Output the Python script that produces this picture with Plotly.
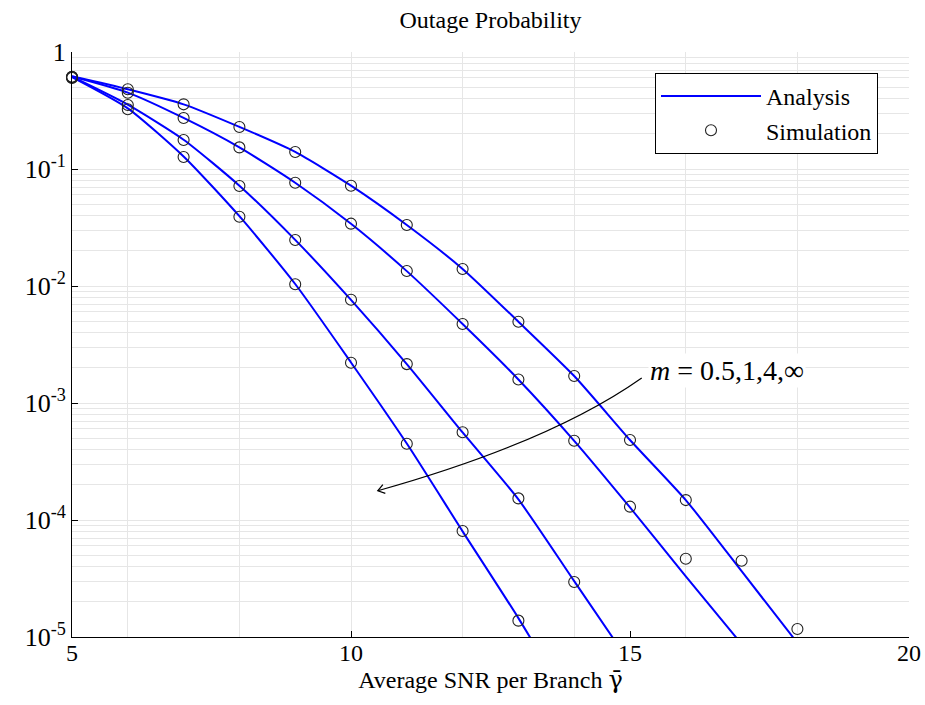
import numpy as np
import plotly.graph_objects as go

# ---------------- data ----------------
snr_sim_inf = [5, 6, 7, 8, 9, 10, 11, 12, 13]
sim_inf = [0.60, 0.324, 0.1266, 0.0391, 0.01034, 0.00221, 0.000449, 8.05e-5, 1.38e-5]
snr_sim_m4 = [5, 6, 7, 8, 9, 10, 11, 12, 13, 14]
sim_m4 = [0.605, 0.352, 0.177, 0.0716, 0.0247, 0.00764, 0.00215, 0.000562, 0.000153, 2.95e-5]
snr_sim_m1 = [5, 6, 7, 8, 9, 10, 11, 12, 13, 14, 15, 16]
sim_m1 = [0.61, 0.449, 0.273, 0.153, 0.0764, 0.0341, 0.01343, 0.00473, 0.00159, 0.000476, 0.00013, 4.67e-5]
snr_sim_m05 = [5, 6, 7, 8, 9, 10, 11, 12, 13, 14, 15, 16, 17, 18]
sim_m05 = [0.615, 0.48, 0.357, 0.2286, 0.1397, 0.072, 0.0332, 0.01397, 0.00495, 0.0017, 0.000483, 0.000148, 4.49e-5, 1.17e-5]

snr_ana_inf = [5, 6, 7, 8, 9, 10, 11, 12, 13, 14]
ana_inf = [0.61, 0.33, 0.128, 0.0395, 0.0104, 0.00222, 0.00045, 8.0e-5, 1.45e-5, 2.3e-6]
snr_ana_m4 = [5, 6, 7, 8, 9, 10, 11, 12, 13, 14, 15]
ana_m4 = [0.615, 0.355, 0.178, 0.072, 0.0248, 0.0076, 0.00215, 0.00056, 0.00015, 3.0e-5, 6.0e-6]
snr_ana_m1 = [5, 6, 7, 8, 9, 10, 11, 12, 13, 14, 15, 16, 17]
ana_m1 = [0.618, 0.45, 0.273, 0.153, 0.0763, 0.034, 0.0134, 0.00473, 0.00159, 0.000475, 0.000128, 3.3e-5, 8.7e-6]
snr_ana_m05 = [5, 6, 7, 8, 9, 10, 11, 12, 13, 14, 15, 16, 17, 18]
ana_m05 = [0.62, 0.48, 0.357, 0.229, 0.14, 0.072, 0.0332, 0.014, 0.00495, 0.0017, 0.000483, 0.000148, 3.65e-5, 8.9e-6]

x_ticks = [5, 10, 15, 20]
y_tick_vals = [1e-5, 1e-4, 1e-3, 1e-2, 1e-1, 1]
y_tick_text = ["10<sup>-5</sup>", "10<sup>-4</sup>", "10<sup>-3</sup>",
               "10<sup>-2</sup>", "10<sup>-1</sup>", "1"]

# ---------------- layout constants ----------------
W, H = 925, 705
ML, MR, MT, MB = 72, 16, 52, 68
PW, PH = W - ML - MR, H - MT - MB
XMIN, XMAX = 5, 20
LYMIN, LYMAX = -5, 0
FONT = "Liberation Serif"
BLUE = "#0000FF"
GRID = "#e6e6e6"

fig = go.Figure()

ana = [(snr_ana_inf, ana_inf), (snr_ana_m4, ana_m4), (snr_ana_m1, ana_m1), (snr_ana_m05, ana_m05)]
sim = [(snr_sim_inf, sim_inf), (snr_sim_m4, sim_m4), (snr_sim_m1, sim_m1), (snr_sim_m05, sim_m05)]

for i, (xs, ys) in enumerate(ana):
    fig.add_trace(go.Scatter(
        x=xs, y=ys, mode="lines", name="Analysis",
        line=dict(color=BLUE, width=2, shape="spline", smoothing=0.6),
        legendgroup="ana", showlegend=(i == 0)))
for i, (xs, ys) in enumerate(sim):
    fig.add_trace(go.Scatter(
        x=xs, y=ys, mode="markers", name="Simulation",
        marker=dict(symbol="circle-open", size=11, color="#222222", line=dict(width=1.1)),
        legendgroup="sim", showlegend=(i == 0), cliponaxis=False))

# ---------------- curved arrow annotation ----------------
def data_to_px(x, y):
    px = ML + (x - XMIN) / (XMAX - XMIN) * PW
    py = MT + (LYMAX - np.log10(y)) / (LYMAX - LYMIN) * PH
    return np.array([px, py])

def px_to_paper(p):
    return ((p[0] - ML) / PW, 1 - (p[1] - MT) / PH)

arrow_start = data_to_px(15.21, 10 ** -2.786)
arrow_ctrl = data_to_px(13.57, 10 ** -3.337)
arrow_end = data_to_px(10.48, 10 ** -3.75)

s, c, e = px_to_paper(arrow_start), px_to_paper(arrow_ctrl), px_to_paper(arrow_end)
fig.add_shape(type="path", xref="paper", yref="paper",
              path=f"M {s[0]},{s[1]} Q {c[0]},{c[1]} {e[0]},{e[1]}",
              line=dict(color="black", width=1.2))

t = arrow_end - arrow_ctrl
t = t / np.linalg.norm(t)
wings = []
for ang in (np.deg2rad(35), -np.deg2rad(35)):
    rot = np.array([[np.cos(ang), -np.sin(ang)], [np.sin(ang), np.cos(ang)]])
    wings.append(arrow_end - 8 * rot @ t)
w1, w2 = px_to_paper(wings[0]), px_to_paper(wings[1])
fig.add_shape(type="path", xref="paper", yref="paper",
              path=f"M {w1[0]},{w1[1]} L {e[0]},{e[1]} L {w2[0]},{w2[1]}",
              line=dict(color="black", width=1.2))

fig.add_annotation(x=15.33, y=-2.726, xref="x", yref="y",
                   text="<i>m</i> = 0.5,1,4,∞", showarrow=False,
                   xanchor="left", yanchor="middle",
                   font=dict(family=FONT, size=28, color="black"),
                   bgcolor="white")

# ---------------- axes ----------------
minor_y = [k * 10.0 ** n for n in range(-5, 0) for k in range(2, 10)]
minor_x = list(range(6, 20, 2))

fig.update_xaxes(
    range=[XMIN, XMAX], tickmode="array", tickvals=x_ticks,
    ticks="inside", ticklen=6, tickcolor="black", tickwidth=1,
    showline=True, linecolor="black", linewidth=1, mirror=False,
    showgrid=False, zeroline=False, ticklabelstandoff=-6,
    minor=dict(tickmode="array", tickvals=minor_x, showgrid=True,
               gridcolor=GRID, gridwidth=1, ticklen=0),
    tickfont=dict(family=FONT, size=24, color="black"),
    title=dict(text='Average SNR per Branch <span style="font-family:DejaVu Serif">γ\u0304</span>',
               font=dict(family=FONT, size=24, color="black"), standoff=6))

fig.update_yaxes(
    type="log", range=[LYMIN, LYMAX], tickmode="array",
    tickvals=y_tick_vals, ticktext=y_tick_text,
    ticks="inside", ticklen=6, tickcolor="black", tickwidth=1,
    showline=True, linecolor="black", linewidth=1, mirror=False,
    showgrid=True, gridcolor=GRID, gridwidth=1, zeroline=False,
    minor=dict(tickmode="array", tickvals=minor_y, showgrid=True,
               gridcolor=GRID, gridwidth=1, ticklen=0),
    tickfont=dict(family=FONT, size=26, color="black"))

fig.update_layout(
    width=W, height=H,
    margin=dict(l=ML, r=MR, t=MT, b=MB, autoexpand=False),
    paper_bgcolor="white", plot_bgcolor="white",
    title=dict(text="Outage Probability", x=0.5, xref="paper", xanchor="center",
               y=1 - 20 / H, yanchor="middle",
               font=dict(family=FONT, size=24, color="black")),
    legend=dict(x=(655 - ML) / PW, y=1 - (73 - MT) / PH, xanchor="left", yanchor="top",
                bgcolor="white", bordercolor="black", borderwidth=1,
                font=dict(family=FONT, size=24, color="black"),
                itemwidth=100, tracegroupgap=0),
    showlegend=True,
)

fig.write_html("out.html", config={"displayModeBar": False},
               post_script="document.body.style.margin='0px';")
